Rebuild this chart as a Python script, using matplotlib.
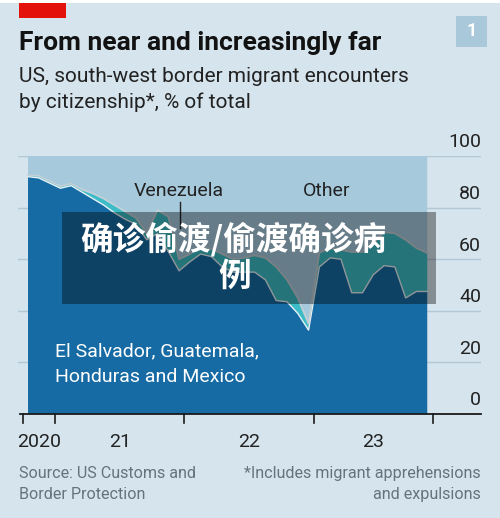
import matplotlib
matplotlib.use("Agg")
import matplotlib.pyplot as plt
from matplotlib.patches import Rectangle
from matplotlib.transforms import blended_transform_factory
import numpy as np
import pandas as pd

# Monthly data, Oct 2020 - Nov 2023, % of total encounters
months = pd.period_range("2020-10", "2023-11", freq="M")
central_mexico = [92, 91.5, 89.5, 87.5, 88.5, 86, 83.5, 81, 78, 75.5,
                  73.5, 67.5, 70, 63, 55.5, 59, 62, 61, 57, 55,
                  55, 55, 52, 44, 43.5, 39, 32.5, 57, 60.5, 60,
                  47, 47, 54, 57.5, 57, 45, 47.5, 47.5]
venezuela = [0.5, 0.8, 0.8, 0.8, 0.8, 1.0, 2.0, 2.5, 3.0, 3.0,
             2.5, 2.5, 9.0, 13.5, 4.5, 3.0, 3.0, 3.0, 5.0, 5.0,
             5.5, 6.5, 8.5, 13.0, 8.5, 6.0, 2.5, 5.5, 3.8, 3.6,
             15.8, 15.8, 12.0, 13.0, 13.0, 22.5, 16.8, 14.9]

year_ticks = [-3, 0, 12, 24, 35]
year_labels = ["2020", "21", "22", "23"]
year_label_pos = [-1.5, 6, 18, 29.5]
y_ticks = [0, 20, 40, 60, 80, 100]

BG = "#d5e4ed"
BLUE = "#176ba4"
CYAN = "#3cbcc6"
OTHER = "#a6c9dc"
GRID = "#b3c8d4"
DARK = "#1a1a1a"
GREY_TXT = "#66737b"

plt.rcParams["font.family"] = ["Roboto", "DejaVu Sans"]

W, H = 500, 518
fig = plt.figure(figsize=(W / 100, H / 100), dpi=100, facecolor=BG)


def fx(px):
    return px / W


def fy(py):
    return 1 - py / H


# month position relative to Jan 2021, mid-month
m = np.array([(p.year - 2021) * 12 + (p.month - 1) + 0.5 for p in months])
blue = np.array(central_mexico)
ven = np.array(venezuela)
other = 100 - blue - ven

px_per_month = 10.79
x_left = (18 - 55) / px_per_month
x_right = (481 - 55) / px_per_month

ax = fig.add_axes([fx(18), fy(414), (481 - 18) / W, (414 - 156) / H])
ax.set_facecolor("none")
ax.set_xlim(x_left, x_right)
ax.set_ylim(0, 100)
for s in ax.spines.values():
    s.set_visible(False)
ax.set_xticks([])
ax.set_yticks([])

# gridlines
for v in y_ticks[1:]:
    ax.axhline(v, color=GRID, lw=1.0, zorder=0)

ax.stackplot(m, blue, ven, other, colors=[BLUE, CYAN, OTHER], lw=0, zorder=1)
ax.plot(m, blue, color="#e8f2f6", lw=1.0, zorder=2)
ax.plot(m, blue + ven, color="#c4d0d7", lw=1.3, zorder=2)

# baseline and ticks
ax.plot([-3.25, x_right], [0, 0], color=DARK, lw=1.3, clip_on=False, zorder=3)
for t in year_ticks:
    ax.plot([t, t], [0, -3.3], color=DARK, lw=1.2, clip_on=False, zorder=3)

trans = blended_transform_factory(ax.transAxes, ax.transData)
for v in y_ticks:
    ax.text(1.0, v + 1.8, str(v), transform=trans, ha="right", va="bottom",
            fontsize=14, color="#222222")

for lab, pos in zip(year_labels, year_label_pos):
    ax.text(pos, -12.7, lab, ha="center", va="baseline", fontsize=14,
            color="#222222", clip_on=False)

# series labels
ax.text(11.5, 84.5, "Venezuela", ha="center", va="baseline", fontsize=14,
        color="#222222")
ax.plot([11.6, 11.6], [72.2, 82.2], color="#222222", lw=1.0, zorder=3)
ax.text(25.2, 84.5, "Other", ha="center", va="baseline", fontsize=14,
        color="#222222")
ax.text(0, 22.5, "El Salvador, Guatemala,", ha="left", va="baseline",
        fontsize=14, color="white")
ax.text(0, 12.5, "Honduras and Mexico", ha="left", va="baseline",
        fontsize=14, color="white")

# header
fig.add_artist(Rectangle((0, fy(2.7)), 1, 2.7 / H, transform=fig.transFigure,
                         color="white", lw=0))
fig.add_artist(Rectangle((fx(19), fy(18)), 47 / W, 15 / H,
                         transform=fig.transFigure, color="#e3120b", lw=0))
fig.add_artist(Rectangle((fx(456), fy(47)), 31 / W, 31 / H,
                         transform=fig.transFigure, color="#a9c8da", lw=0))
fig.text(fx(471.5), fy(31.5), "1", ha="center", va="center", fontsize=13,
         fontweight="bold", color="white")
fig.text(fx(19), fy(50), "From near and increasingly far", ha="left",
         va="baseline", fontsize=19, fontweight="bold", color="#121212")
fig.text(fx(19), fy(82), "US, south-west border migrant encounters",
         ha="left", va="baseline", fontsize=15, color="#222222")
fig.text(fx(19), fy(108), "by citizenship*, % of total", ha="left",
         va="baseline", fontsize=15, color="#222222")

# footer
fig.text(fx(19), fy(478), "Source: US Customs and", ha="left", va="baseline",
         fontsize=11.6, color=GREY_TXT)
fig.text(fx(19), fy(499), "Border Protection", ha="left", va="baseline",
         fontsize=11.6, color=GREY_TXT)
fig.text(fx(481), fy(478), "*Includes migrant apprehensions", ha="right",
         va="baseline", fontsize=11.6, color=GREY_TXT)
fig.text(fx(481), fy(499), "and expulsions", ha="right", va="baseline",
         fontsize=11.6, color=GREY_TXT)

# dark caption overlay
fig.add_artist(Rectangle((fx(62), fy(304)), (436 - 62) / W, (304 - 212) / H,
                         transform=fig.transFigure, color="black", alpha=0.38,
                         lw=0, zorder=5))
cjk = ["Noto Sans CJK SC", "DejaVu Sans"]
fig.text(fx(233), fy(239), "确诊偷渡/偷渡确诊病", ha="center", va="center",
         fontsize=23.5, fontweight="bold", color="white", family=cjk, zorder=6)
fig.text(fx(235), fy(276), "例", ha="center", va="center",
         fontsize=23.5, fontweight="bold", color="white", family=cjk, zorder=6)

fig.savefig("out.png", dpi=100, facecolor=BG)
